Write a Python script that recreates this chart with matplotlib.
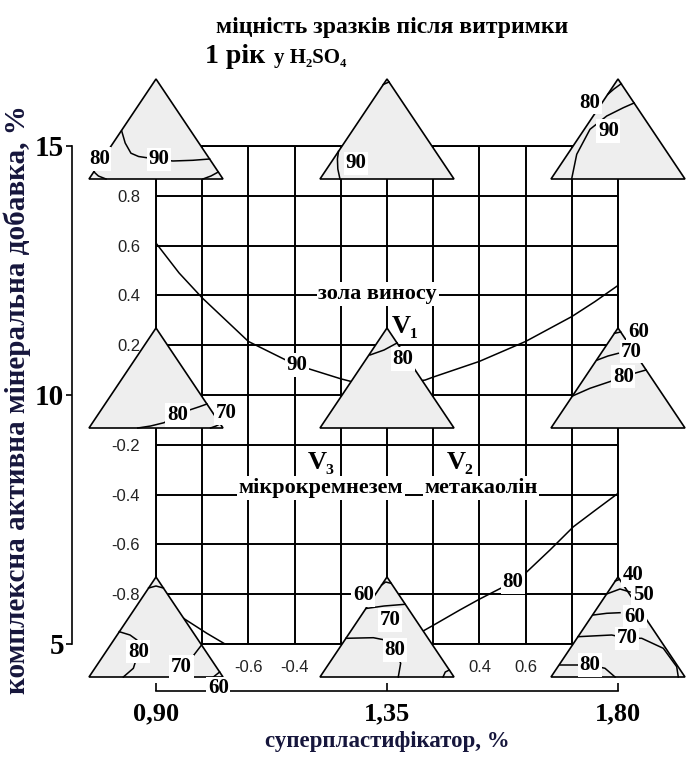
import numpy as np
import matplotlib.pyplot as plt
from matplotlib.patches import Polygon

plt.rcParams['font.family'] = ['Liberation Serif', 'DejaVu Serif']

# main contour lines in the coded square (-1..1)
curve90_x = [-1.0, -0.9, -0.8, -0.6, -0.4, -0.2, -0.15, 0.0, 0.165, 0.2, 0.4, 0.6, 0.8, 0.9, 1.0]
curve90_y = [0.61, 0.49, 0.39, 0.215, 0.123, 0.065, 0.053, 0.04, 0.06, 0.072, 0.135, 0.215, 0.315, 0.375, 0.44]
curve80a_x = [-0.95, -0.874, -0.78, -0.694, -0.66]
curve80a_y = [-0.85, -0.901, -0.957, -1.004, -1.02]
curve80b_x = [0.1, 0.156, 0.2, 0.316, 0.4, 0.545, 0.6, 0.706, 0.807, 0.9, 1.0]
curve80b_y = [-0.975, -0.948, -0.925, -0.863, -0.82, -0.751, -0.715, -0.622, -0.529, -0.464, -0.395]

grid_ticks = np.round(np.arange(-1, 1.01, 0.2), 1)
ylabels_shown = [0.8, 0.6, 0.4, 0.2, -0.2, -0.4, -0.6, -0.8]
xlabels_shown = [-0.6, -0.4, 0.4, 0.6]

sp_ticks = [0.90, 1.35, 1.80]
sp_labels = ['0,90', '1,35', '1,80']
amd_ticks = [5, 10, 15]

# ternary diagrams: points as (u, v), u along the base 0..1, v from base 0 to apex 1
tl_lines = [
    [(0.244, 0.48), (0.27, 0.36), (0.313, 0.258), (0.37, 0.225), (0.425, 0.214),
     (0.625, 0.18), (0.774, 0.187), (0.9, 0.2)],
    [(0.037, 0.071), (0.07, 0.03), (0.127, 0.0)],
    [(0.85, 0.0), (0.91, 0.03), (0.965, 0.07)],
]
tl_labels = [('80', 0.077, 0.2), ('90', 0.52, 0.195)]

tc_lines = [
    [(0.138, 0.276), (0.13, 0.2), (0.133, 0.1), (0.149, 0.0)],
    [(0.472, 0.945), (0.515, 0.97)],
]
tc_labels = [('90', 0.266, 0.156)]

tr_lines = [
    [(0.424, 0.847), (0.47, 0.9), (0.524, 0.953)],
    [(0.154, 0.0), (0.192, 0.247), (0.291, 0.497), (0.416, 0.63), (0.54, 0.713), (0.62, 0.76)],
]
tr_labels = [('80', 0.291, 0.763), ('90', 0.428, 0.48)]

ml_lines = [
    [(0.364, 0.0), (0.46, 0.02), (0.56, 0.053), (0.66, 0.13), (0.75, 0.18), (0.824, 0.213), (0.88, 0.24)],
    [(0.907, 0.0), (0.948, 0.02), (0.978, 0.04)],
]
ml_labels = [('80', 0.66, 0.13), ('70', 1.022, 0.15)]

mc_lines = [
    [(0.373, 0.73), (0.478, 0.78), (0.575, 0.85)],
]
mc_labels = [('80', 0.62, 0.69)]

mr_lines = [
    [(0.474, 0.947), (0.52, 0.96)],
    [(0.346, 0.68), (0.425, 0.72), (0.502, 0.747)],
    [(0.16, 0.32), (0.291, 0.397), (0.453, 0.47), (0.552, 0.52), (0.664, 0.563), (0.709, 0.58)],
]
mr_labels = [('60', 0.651, 0.963), ('70', 0.602, 0.763), ('80', 0.54, 0.513)]

bl_lines = [
    [(0.445, 0.89), (0.5, 0.91), (0.555, 0.89)],
    [(0.226, 0.453), (0.306, 0.42), (0.358, 0.37), (0.37, 0.25), (0.331, 0.087), (0.256, 0.0)],
    [(0.84, 0.32), (0.754, 0.17), (0.69, 0.103), (0.654, 0.0)],
    [(0.928, 0.0), (0.975, 0.05)],
]
bl_labels = [('80', 0.368, 0.253), ('70', 0.69, 0.103), ('60', 0.965, -0.113)]

bc_lines = [
    [(0.46, 0.92), (0.49, 0.95), (0.53, 0.937)],
    [(0.343, 0.685), (0.478, 0.71), (0.634, 0.727)],
    [(0.194, 0.387), (0.398, 0.393), (0.485, 0.37), (0.56, 0.27), (0.602, 0.137), (0.584, 0.0)],
    [(0.918, 0.0), (0.935, 0.05), (0.965, 0.07)],
]
bc_labels = [('60', 0.323, 0.82), ('70', 0.522, 0.57), ('80', 0.56, 0.27)]

br_lines = [
    [(0.48, 0.96), (0.51, 0.975)],
    [(0.415, 0.83), (0.515, 0.88), (0.59, 0.85)],
    [(0.316, 0.62), (0.416, 0.637), (0.515, 0.643)],
    [(0.2015, 0.403), (0.453, 0.42), (0.565, 0.387), (0.677, 0.387), (0.838, 0.287),
     (0.938, 0.103), (0.95, 0.0)],
    [(0.067, 0.12), (0.291, 0.12), (0.403, 0.087), (0.478, 0.0)],
]
br_labels = [('40', 0.614, 1.02), ('50', 0.689, 0.82), ('60', 0.627, 0.603),
             ('70', 0.565, 0.387), ('80', 0.291, 0.12)]

triangles = [
    (-1, 1, tl_lines, tl_labels), (0, 1, tc_lines, tc_labels), (1, 1, tr_lines, tr_labels),
    (-1, 0, ml_lines, ml_labels), (0, 0, mc_lines, mc_labels), (1, 0, mr_lines, mr_labels),
    (-1, -1, bl_lines, bl_labels), (0, -1, bc_lines, bc_labels), (1, -1, br_lines, br_labels),
]

# triangle size in coded units
TRI_UP = 67 / 249
TRI_DOWN = 33 / 249
TRI_HALF = 67 / 231

navy = '#16163c'
white_box = dict(boxstyle='square,pad=0.08', fc='white', ec='none')


def to_data(xc, yc, u, v):
    x = xc + (u - 0.5) * 2 * TRI_HALF
    y = yc - TRI_DOWN + v * (TRI_UP + TRI_DOWN)
    return x, y


fig = plt.figure(figsize=(6.87, 7.59), dpi=100)
pos = [156 / 687, 115 / 759, 462 / 687, 498 / 759]

# outer axes with natural units
ax_out = fig.add_axes(pos)
ax_out.set_xlim(0.9, 1.8)
ax_out.set_ylim(5, 15)
ax_out.patch.set_visible(False)
ax_out.spines['top'].set_visible(False)
ax_out.spines['right'].set_visible(False)
ax_out.spines['left'].set_position(('outward', 60.5))
ax_out.spines['bottom'].set_position(('outward', 34))
ax_out.spines['left'].set_linewidth(1.2)
ax_out.spines['bottom'].set_linewidth(1.2)
ax_out.set_xticks(sp_ticks, sp_labels, fontsize=19, fontweight='bold')
ax_out.set_yticks(amd_ticks, [str(t) for t in amd_ticks], fontsize=21, fontweight='bold')
ax_out.tick_params(axis='y', direction='out', length=4.5, width=1.2, pad=1)
ax_out.tick_params(axis='x', direction='in', length=6, width=1.2, pad=8)
ax_out.set_xlabel('суперпластифікатор, %', fontsize=16.5, fontweight='bold', color=navy)
ax_out.xaxis.set_label_coords(0.5, -0.175)
ax_out.set_ylabel('комплексна активна мінеральна добавка, %', fontsize=21,
                  fontweight='bold', color=navy)
ax_out.yaxis.set_label_coords(-0.27, 0.49)

# coded square with grid
ax = fig.add_axes(pos)
ax.set_xlim(-1, 1)
ax.set_ylim(-1, 1)
ax.patch.set_visible(False)
ax.set_xticks(grid_ticks, [f'{t:.1f}' if t in xlabels_shown else '' for t in grid_ticks],
              fontfamily='Liberation Sans', fontsize=12, color='#222222')
ax.set_yticks(grid_ticks, [f'{t:.1f}' if t in ylabels_shown else '' for t in grid_ticks],
              fontfamily='Liberation Sans', fontsize=12, color='#222222')
ax.tick_params(length=0, pad=11.5)
ax.grid(True, color='black', lw=1.4)
for s in ax.spines.values():
    s.set_linewidth(1.4)

ax.plot(curve90_x, curve90_y, color='black', lw=1.1, zorder=3)
ax.plot(curve80a_x, curve80a_y, color='black', lw=1.1, zorder=3)
ax.plot(curve80b_x, curve80b_y, color='black', lw=1.1, zorder=3)
ax.text(-0.39, 0.12, '90', fontsize=15, fontweight='bold', ha='center', va='center',
        bbox=white_box, zorder=6)
ax.text(0.545, -0.751, '80', fontsize=15, fontweight='bold', ha='center', va='center',
        bbox=white_box, zorder=6)

for xc, yc, lines, labels in triangles:
    corners = [to_data(xc, yc, 0, 0), to_data(xc, yc, 0.5, 1), to_data(xc, yc, 1, 0)]
    ax.add_patch(Polygon(corners, closed=True, fc='#eeeeee', ec='black', lw=1.2,
                         zorder=4, clip_on=False))
    for line in lines:
        pts = [to_data(xc, yc, u, v) for u, v in line]
        ax.plot([p[0] for p in pts], [p[1] for p in pts], color='black', lw=1.1,
                zorder=5, clip_on=False)
    for txt, u, v in labels:
        x, y = to_data(xc, yc, u, v)
        ax.text(x, y, txt, fontsize=15, fontweight='bold', ha='center', va='center',
                bbox=white_box, zorder=7, clip_on=False)

# component names of the ternary diagrams
ax.text(-0.04, 0.406, 'зола виносу', fontsize=16, fontweight='bold', ha='center', va='center',
        bbox=white_box, zorder=6)
ax.text(0.02, 0.277, 'V₁', fontsize=19, fontweight='bold', ha='left', va='center', zorder=6)
ax.text(-0.286, -0.27, 'V₃', fontsize=19, fontweight='bold', ha='center', va='center',
        bbox=white_box, zorder=6)
ax.text(0.316, -0.27, 'V₂', fontsize=19, fontweight='bold', ha='center', va='center',
        bbox=white_box, zorder=6)
ax.text(-0.286, -0.373, 'мікрокремнезем', fontsize=16, fontweight='bold', ha='center',
        va='center', bbox=white_box, zorder=6)
ax.text(0.407, -0.373, 'метакаолін', fontsize=16, fontweight='bold', ha='center',
        va='center', bbox=white_box, zorder=6)

fig.text(392 / 687, 1 - 28 / 759, 'міцність зразків після витримки', fontsize=17,
         fontweight='bold', ha='center', va='center')
fig.text(205 / 687, 1 - 63 / 759, '1 рік', fontsize=20, fontweight='bold', va='baseline')
fig.text(274 / 687, 1 - 63 / 759, 'у H₂SO₄', fontsize=15, fontweight='bold', va='baseline')

fig.savefig('out.png', dpi=100)
